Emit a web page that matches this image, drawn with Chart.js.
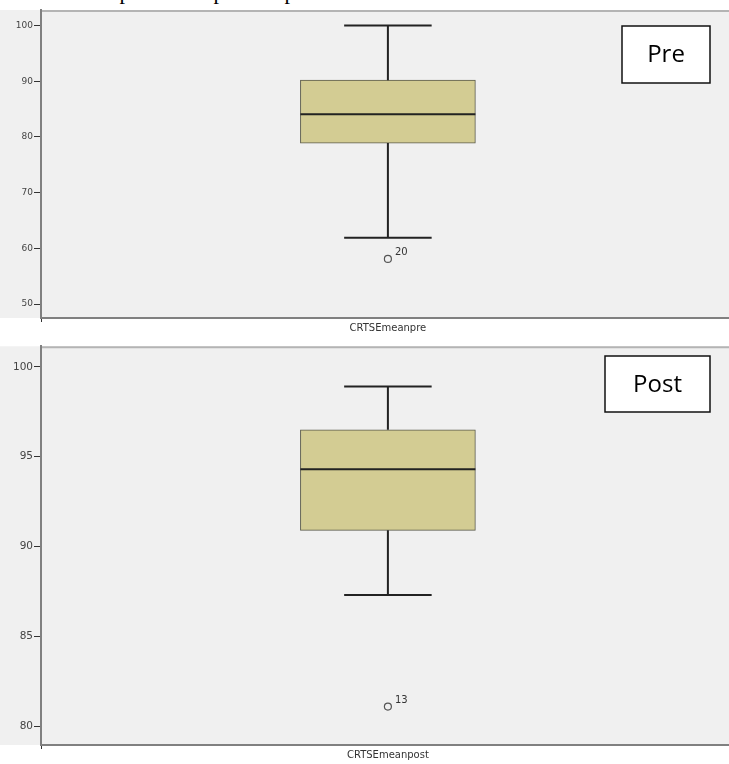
<!DOCTYPE html>
<html>
<head>
<meta charset="utf-8">
<script src="https://cdn.jsdelivr.net/npm/chart.js@4.4.0/dist/chart.umd.min.js"></script>
<style>
  html, body { margin: 0; padding: 0; background: #fff; overflow: hidden; width: 729px; height: 764px; }
  #title { position: absolute; left: 0; top: -21px; font-family: "Liberation Serif", serif; font-size: 22px; white-space: nowrap; color: #000; }
  .wrap { position: absolute; left: 0; }
</style>
</head>
<body>
<div id="title">Table 3: Comparison of pre and post Mean CRTSE Scores and Post</div>
<div class="wrap" style="top:0"><canvas id="preChart" width="740" height="339"></canvas></div>
<div class="wrap" style="top:339px"><canvas id="postChart" width="740" height="425"></canvas></div>
<script>
// box plot values: min whisker, q1, median, q3, max whisker
var preLabels = ["CRTSEmeanpre"];
var preStats = [61.9, 78.9, 84.1, 90.2, 100];
var preOutliers = [58.1];
var preOutlierIds = ["20"];
var preTicks = [50, 60, 70, 80, 90, 100];

var postLabels = ["CRTSEmeanpost"];
var postStats = [87.3, 90.9, 94.3, 96.5, 98.9];
var postOutliers = [81.1];
var postOutlierIds = ["13"];
var postTicks = [80, 85, 90, 95, 100];

// draws grey panel, whiskers, median line, outlier id and the Pre/Post tag
var boxPlugin = {
	id: "boxExtras",
	beforeDraw: function (chart) {
		var ctx = chart.ctx, a = chart.chartArea;
		ctx.save();
		ctx.fillStyle = "#f0f0f0";
		ctx.fillRect(0, a.top, chart.width, a.bottom - a.top);
		ctx.strokeStyle = "#b4b4b4";
		ctx.lineWidth = 2;
		ctx.beginPath();
		ctx.moveTo(a.left, a.top + 1);
		ctx.lineTo(chart.width, a.top + 1);
		ctx.stroke();
		ctx.restore();
	},
	afterDatasetsDraw: function (chart) {
		var o = chart.options.plugins.boxExtras;
		var ctx = chart.ctx, y = chart.scales.y;
		var bar = chart.getDatasetMeta(0).data[0];
		var x = bar.x, half = bar.width / 2, cap = bar.width / 4;
		var s = o.stats;
		ctx.save();
		ctx.strokeStyle = "#222";
		ctx.lineWidth = 2;
		ctx.beginPath();
		// upper whisker
		ctx.moveTo(x, y.getPixelForValue(s[4]));
		ctx.lineTo(x, y.getPixelForValue(s[3]));
		ctx.moveTo(x - cap, y.getPixelForValue(s[4]));
		ctx.lineTo(x + cap, y.getPixelForValue(s[4]));
		// lower whisker
		ctx.moveTo(x, y.getPixelForValue(s[1]));
		ctx.lineTo(x, y.getPixelForValue(s[0]));
		ctx.moveTo(x - cap, y.getPixelForValue(s[0]));
		ctx.lineTo(x + cap, y.getPixelForValue(s[0]));
		// median
		ctx.moveTo(x - half, y.getPixelForValue(s[2]));
		ctx.lineTo(x + half, y.getPixelForValue(s[2]));
		ctx.stroke();
		// outlier case numbers
		ctx.fillStyle = "#333";
		ctx.font = "10px 'DejaVu Sans', Arial";
		ctx.textAlign = "left";
		for (var i = 0; i < o.outliers.length; i++) {
			ctx.fillText(o.ids[i], x + 7, y.getPixelForValue(o.outliers[i]) - 4);
		}
		// tag box
		var t = o.tag;
		ctx.fillStyle = "#fff";
		ctx.fillRect(t.x, t.y, t.w, t.h);
		ctx.strokeStyle = "#111";
		ctx.lineWidth = 1.5;
		ctx.strokeRect(t.x, t.y, t.w, t.h);
		ctx.fillStyle = "#000";
		ctx.font = "24px 'Open Sans', sans-serif";
		ctx.textAlign = "center";
		ctx.textBaseline = "middle";
		ctx.fillText(t.text, t.x + t.w / 2, t.y + t.h / 2 + 1);
		ctx.restore();
	}
};

function makeBoxChart(id, labels, stats, outliers, ids, ticks, yMin, yMax, padTop, xHeight, tickSize, tag) {
	var ctx = document.getElementById(id).getContext("2d");
	return new Chart(ctx, {
		type: "bar",
		data: {
			labels: labels,
			datasets: [{
				data: [[stats[1], stats[3]]],
				backgroundColor: "#d3cc93",
				borderColor: "#5a5a4a",
				borderWidth: 1,
				borderSkipped: false,
				barThickness: 175
			}, {
				type: "line",
				data: outliers,
				showLine: false,
				pointStyle: "circle",
				pointRadius: 3.5,
				pointBorderWidth: 1.2,
				pointBorderColor: "#555",
				pointBackgroundColor: "rgba(0,0,0,0)"
			}]
		},
		options: {
			responsive: false,
			animation: false,
			layout: { padding: { top: padTop, left: 0, right: 0, bottom: 0 } },
			plugins: {
				legend: { display: false },
				tooltip: { enabled: false },
				boxExtras: { stats: stats, outliers: outliers, ids: ids, tag: tag }
			},
			scales: {
				x: {
					grid: { drawOnChartArea: false, tickLength: 4, color: "#333" },
					border: { color: "#808080", width: 2 },
					ticks: { color: "#333", padding: 0, font: { size: 10, family: "'DejaVu Sans', Arial" } },
					afterFit: function (scale) { scale.height = xHeight; }
				},
				y: {
					min: yMin,
					max: yMax,
					grid: { drawOnChartArea: false, tickLength: 7, color: "#333" },
					border: { color: "#808080", width: 2 },
					ticks: { color: "#444", padding: 1, font: { size: tickSize, family: "'DejaVu Sans', Arial" } },
					afterBuildTicks: function (scale) {
						scale.ticks = ticks.map(function (v) { return { value: v }; });
					},
					afterFit: function (scale) { scale.width = 41; }
				}
			}
		},
		plugins: [boxPlugin]
	});
}

makeBoxChart("preChart", preLabels, preStats, preOutliers, preOutlierIds, preTicks,
	47.5, 102.8, 10, 21, 9, { x: 622, y: 26, w: 88, h: 57, text: "Pre" });
makeBoxChart("postChart", postLabels, postStats, postOutliers, postOutlierIds, postTicks,
	78.96, 101.14, 0, 19, 10.5, { x: 605, y: 17, w: 105, h: 56, text: "Post" });
</script>
</body>
</html>
